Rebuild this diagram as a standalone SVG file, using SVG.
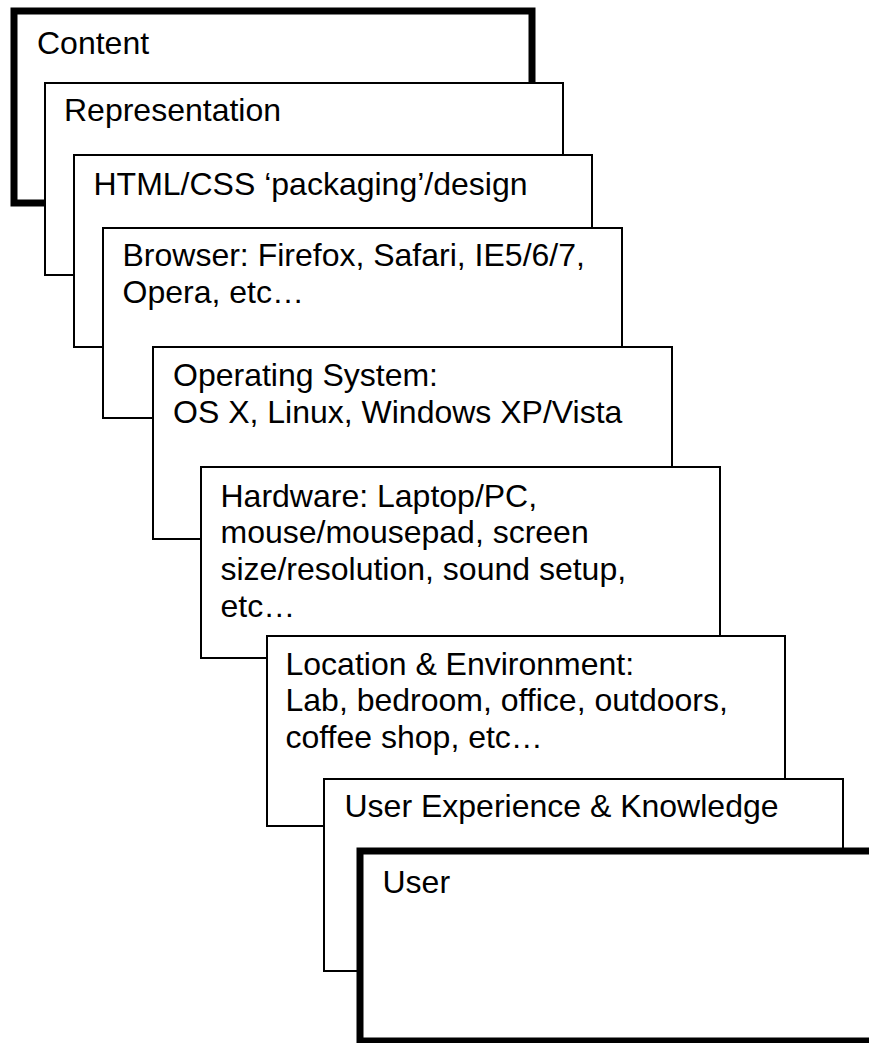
<svg xmlns="http://www.w3.org/2000/svg" width="869" height="1043" viewBox="0 0 869 1043">
  <style>
    .box { fill: #ffffff; stroke: #000000; stroke-width: 2; }
    .box.thick { stroke-width: 7; }
    .lbl { font-family: "Liberation Sans", Arial, sans-serif; font-size: 32px; fill: #000000; }
  </style>
  <rect width="869" height="1043" fill="#ffffff"/>

  <g id="content">
    <rect class="box thick" x="14" y="11" width="518" height="192"/>
    <text class="lbl" x="37" y="54">Content</text>
  </g>

  <g id="representation">
    <rect class="box" x="45" y="83" width="518" height="192"/>
    <text class="lbl" x="64" y="121">Representation</text>
  </g>

  <g id="html-css">
    <rect class="box" x="74" y="155" width="518" height="192"/>
    <text class="lbl" x="93.5" y="195">HTML/CSS ‘packaging’/design</text>
  </g>

  <g id="browser">
    <rect class="box" x="103" y="228" width="519" height="190"/>
    <text class="lbl" x="122.5" y="266">Browser: Firefox, Safari, IE5/6/7,<tspan x="122.5" dy="36.7">Opera, etc…</tspan></text>
  </g>

  <g id="operating-system">
    <rect class="box" x="153" y="347" width="519" height="192"/>
    <text class="lbl" x="173" y="386.3">Operating System:<tspan x="173" dy="36.7">OS X, Linux, Windows XP/Vista</tspan></text>
  </g>

  <g id="hardware">
    <rect class="box" x="201" y="467" width="519" height="191"/>
    <text class="lbl" x="220.5" y="506.5">Hardware: Laptop/PC,<tspan x="220.5" dy="36.8">mouse/mousepad, screen</tspan><tspan x="220.5" dy="36.8">size/resolution, sound setup,</tspan><tspan x="220.5" dy="36.8">etc…</tspan></text>
  </g>

  <g id="location">
    <rect class="box" x="267" y="636" width="518" height="190"/>
    <text class="lbl" x="285.5" y="674.5">Location &amp; Environment:<tspan x="285.5" dy="36.8">Lab, bedroom, office, outdoors,</tspan><tspan x="285.5" dy="36.8">coffee shop, etc…</tspan></text>
  </g>

  <g id="user-experience">
    <rect class="box" x="324" y="779" width="519" height="192"/>
    <text class="lbl" x="344.5" y="817">User Experience &amp; Knowledge</text>
  </g>

  <g id="user">
    <rect class="box thick" x="360" y="851" width="518" height="190"/>
    <text class="lbl" x="382.5" y="893">User</text>
  </g>

  <g id="connectors"/>
</svg>
